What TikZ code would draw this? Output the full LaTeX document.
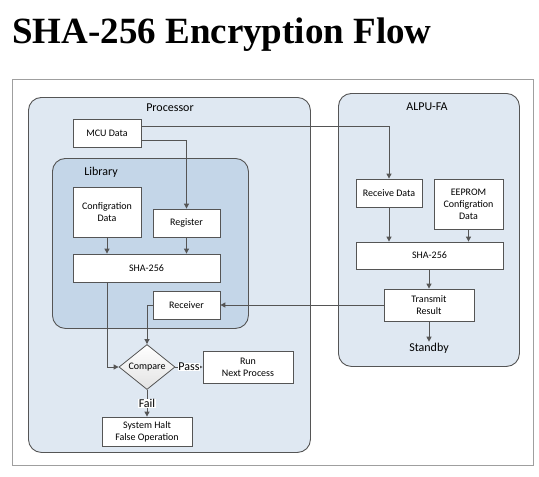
\documentclass[tikz,border=0pt]{standalone}
\usepackage{fontspec}
\setmainfont{Liberation Serif}
\setsansfont{Carlito}
\usepackage{xcolor}
\usetikzlibrary{arrows.meta,positioning,shapes.geometric,calc}
\definecolor{procfill}{HTML}{DFE8F2}
\definecolor{libfill}{HTML}{C4D6E8}
\definecolor{edge}{HTML}{555555}

\begin{document}
\begin{tikzpicture}[
  x=1pt, y=-1pt,
  box/.style={draw=edge, fill=white, line width=0.8pt, inner sep=0pt,
    font=\sffamily\fontsize{10}{12}\selectfont, align=center},
  group/.style={draw=edge, line width=0.9pt, rounded corners=13pt,
    anchor=north west, inner sep=0pt},
  grouplabel/.style={font=\sffamily\fontsize{12}{14}\selectfont, inner sep=1pt},
  decision/.style={diamond, draw=edge, line width=0.8pt, inner sep=0pt,
    top color=white, bottom color=gray!22,
    font=\sffamily\fontsize{10}{12}\selectfont,
    minimum width=56pt, minimum height=44pt},
  tag/.style={font=\sffamily\fontsize{12}{14}\selectfont, fill=white, inner sep=0.5pt},
  arr/.style={-{Triangle[length=5pt,width=5pt]}, draw=edge, line width=1pt},
]
\useasboundingbox (0,0) rectangle (539,477);

% Title and frame
\node[anchor=base west, inner sep=0pt, font=\bfseries\fontsize{37}{40}\selectfont]
  (title) at (12,43) {SHA-256 Encryption Flow};
\node[draw=gray!75, line width=1.2pt, anchor=north west, inner sep=0pt,
  minimum width=521pt, minimum height=386pt] (frame) at (12,79) {};

% Processor
\node[group, fill=procfill, minimum width=282pt, minimum height=355pt] (proc) at (28,97) {};
\node[grouplabel] (proc_lbl) at (170,108) {Processor};
\node[box, minimum width=68pt, minimum height=28pt] (mcu) at (107,133) {MCU Data};

% Library
\node[group, fill=libfill, minimum width=196pt, minimum height=170pt] (lib) at (52,158) {};
\node[grouplabel] (lib_lbl) at (101,172) {Library};
\node[box, minimum width=68pt, minimum height=50pt] (cfg) at (107,212) {Configration\\Data};
\node[box, minimum width=67pt, minimum height=28pt] (reg) at (186.5,223) {Register};
\node[box, minimum width=147pt, minimum height=28pt] (sha) at (146.5,268) {SHA-256};
\node[box, minimum width=67pt, minimum height=28pt] (rcv) at (186.5,305) {Receiver};

% Decision
\node[decision] (cmp) at (147,367) {Compare};
\node[box, minimum width=90pt, minimum height=32pt] (run) at (248,367) {Run\\Next Process};
\node[box, minimum width=90pt, minimum height=29pt] (halt) at (147,431.5) {System Halt\\False Operation};

% ALPU-FA
\node[group, fill=procfill, minimum width=181pt, minimum height=273pt] (alpu) at (338,93) {};
\node[grouplabel] (alpu_lbl) at (427,107) {ALPU-FA};
\node[box, minimum width=66pt, minimum height=28pt] (recv) at (389,193) {Receive Data};
\node[box, minimum width=69pt, minimum height=50pt] (eep) at (468.5,204) {EEPROM\\Configration\\Data};
\node[box, minimum width=147pt, minimum height=27pt] (shar) at (429.5,255.5) {SHA-256};
\node[box, minimum width=90pt, minimum height=32pt] (tx) at (429,305) {Transmit\\Result};
\node[grouplabel] (stby) at (429,348) {Standby};

% Arrows
\draw[arr] ([yshift=7pt]mcu.east) -| (recv.north);
\draw[arr] ([yshift=-7pt]mcu.east) -| (reg.north);
\draw[arr] (cfg.south) -- (cfg.south |- sha.north);
\draw[arr] (reg.south) -- (reg.south |- sha.north);
\draw[arr] (sha.south -| cfg.south) |- (cmp.west);
\draw[arr] (rcv.west) -| (cmp.north);
\draw[arr] (cmp.east) -- node[tag] {Pass} (run.west);
\draw[arr] (cmp.south) -- node[tag] {Fail} (halt.north);
\draw[arr] (recv.south) -- (recv.south |- shar.north);
\draw[arr] (eep.south) -- (eep.south |- shar.north);
\draw[arr] (shar.south -| tx.north) -- (tx.north);
\draw[arr] (tx.south) -- (stby.north);
\draw[arr] (tx.west) -- (rcv.east);

\end{tikzpicture}
\end{document}
